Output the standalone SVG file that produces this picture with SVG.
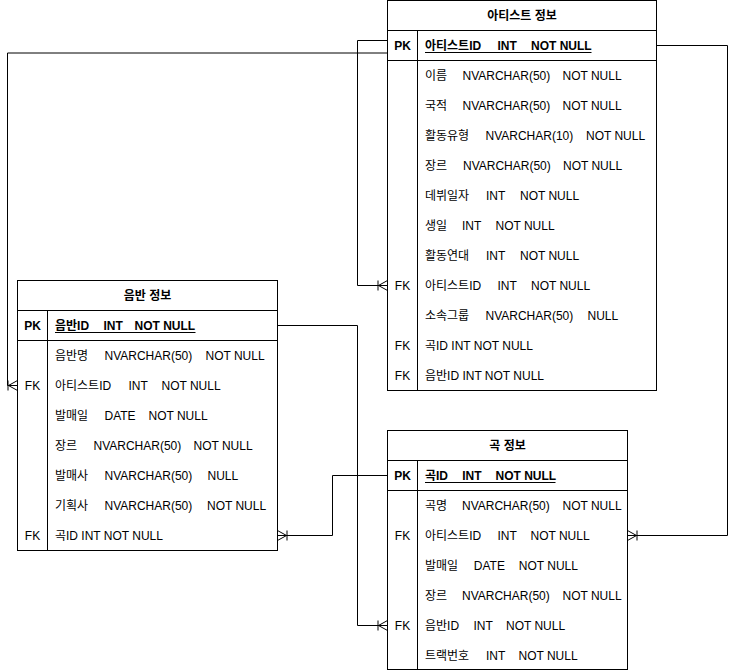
<svg xmlns="http://www.w3.org/2000/svg" width="737" height="672" viewBox="0 0 737 672">
<style>
  text { font-family: "Liberation Sans", "Noto Sans CJK KR", sans-serif; font-size: 12px; fill: #000; white-space: pre; }
  .title { font-weight: bold; text-anchor: middle; }
  .key { text-anchor: middle; }
  .pk { font-weight: bold; }
  .box { fill: #fff; stroke: #000; stroke-width: 1; }
  .ln { fill: none; stroke: #000; stroke-width: 1; }
  .ul { fill: none; stroke: #000; stroke-width: 1; }
  .edge { fill: none; stroke: #000; stroke-width: 1; marker-end: url(#erOneToMany); }
</style>
<defs>
  <marker id="erOneToMany" markerUnits="userSpaceOnUse" viewBox="-12 -7 14 14" markerWidth="14" markerHeight="14" refX="0" refY="0" orient="auto" overflow="visible">
    <path d="M-9,0 L0,-5 M-9,0 L0,5 M-9,0 L0,0 M-9.5,-5 L-9.5,5" fill="none" stroke="#000" stroke-width="1"/>
  </marker>
</defs>

<g id="connectors">
  <path class="edge" d="M387.5,53 H7.5 V385.5 H17.5"/>
  <path class="edge" d="M387.5,40.5 H357.5 V285.5 H387.5"/>
  <path class="edge" d="M656.5,45.5 H727.5 V535.5 H627.5"/>
  <path class="edge" d="M277.5,325.5 H357.5 V625.5 H387.5"/>
  <path class="edge" d="M387.5,475.5 H332.5 V535.5 H277.5"/>
</g>

<g id="artist">
  <rect class="box" x="387.5" y="0.5" width="269" height="390"/>
  <path class="ln" d="M387.5,30.5 H656.5 M387.5,60.5 H656.5 M417.5,30.5 V390.5"/>
  <text class="title" x="522" y="20">아티스트 정보</text>
  <text class="key pk" x="402.5" y="50">PK</text>
  <text class="pk" y="50"><tspan x="425">아티스트ID</tspan><tspan x="497.5">INT</tspan><tspan x="531">NOT NULL</tspan></text>
  <path class="ul" d="M425,52.5 H591.5"/>
  <text y="80"><tspan x="425">이름</tspan><tspan x="462.5">NVARCHAR(50)</tspan><tspan x="562.5">NOT NULL</tspan></text>
  <text y="110"><tspan x="425">국적</tspan><tspan x="462.5">NVARCHAR(50)</tspan><tspan x="562.5">NOT NULL</tspan></text>
  <text y="140"><tspan x="425">활동유형</tspan><tspan x="485.5">NVARCHAR(10)</tspan><tspan x="586">NOT NULL</tspan></text>
  <text y="170"><tspan x="425">장르</tspan><tspan x="463">NVARCHAR(50)</tspan><tspan x="563">NOT NULL</tspan></text>
  <text y="200"><tspan x="425">데뷔일자</tspan><tspan x="486">INT</tspan><tspan x="520">NOT NULL</tspan></text>
  <text y="230"><tspan x="425">생일</tspan><tspan x="462">INT</tspan><tspan x="495.5">NOT NULL</tspan></text>
  <text y="260"><tspan x="425">활동연대</tspan><tspan x="486">INT</tspan><tspan x="520">NOT NULL</tspan></text>
  <text class="key" x="402.5" y="290">FK</text>
  <text y="290"><tspan x="425">아티스트ID</tspan><tspan x="497.5">INT</tspan><tspan x="531">NOT NULL</tspan></text>
  <text y="320"><tspan x="425">소속그룹</tspan><tspan x="485.5">NVARCHAR(50)</tspan><tspan x="587.5">NULL</tspan></text>
  <text class="key" x="402.5" y="350">FK</text>
  <text x="425" y="350">곡ID INT NOT NULL</text>
  <text class="key" x="402.5" y="380">FK</text>
  <text x="425" y="380">음반ID INT NOT NULL</text>
</g>

<g id="album">
  <rect class="box" x="17.5" y="280.5" width="260" height="270"/>
  <path class="ln" d="M17.5,310.5 H277.5 M17.5,340.5 H277.5 M47.5,310.5 V550.5"/>
  <text class="title" x="147.5" y="300">음반 정보</text>
  <text class="key pk" x="32.5" y="330">PK</text>
  <text class="pk" y="330"><tspan x="55">음반ID</tspan><tspan x="103.5">INT</tspan><tspan x="134.5">NOT NULL</tspan></text>
  <path class="ul" d="M55,332.5 H195.5"/>
  <text y="360"><tspan x="55">음반명</tspan><tspan x="104.5">NVARCHAR(50)</tspan><tspan x="205.5">NOT NULL</tspan></text>
  <text class="key" x="32.5" y="390">FK</text>
  <text y="390"><tspan x="55">아티스트ID</tspan><tspan x="128.5">INT</tspan><tspan x="161.5">NOT NULL</tspan></text>
  <text y="420"><tspan x="55">발매일</tspan><tspan x="104.5">DATE</tspan><tspan x="148.5">NOT NULL</tspan></text>
  <text y="450"><tspan x="55">장르</tspan><tspan x="93.5">NVARCHAR(50)</tspan><tspan x="193.5">NOT NULL</tspan></text>
  <text y="480"><tspan x="55">발매사</tspan><tspan x="104.5">NVARCHAR(50)</tspan><tspan x="207.5">NULL</tspan></text>
  <text y="510"><tspan x="55">기획사</tspan><tspan x="104.5">NVARCHAR(50)</tspan><tspan x="207">NOT NULL</tspan></text>
  <text class="key" x="32.5" y="540">FK</text>
  <text x="55" y="540">곡ID INT NOT NULL</text>
</g>

<g id="song">
  <rect class="box" x="387.5" y="430.5" width="240" height="239"/>
  <path class="ln" d="M387.5,460.5 H627.5 M387.5,490.5 H627.5 M417.5,460.5 V669.5"/>
  <text class="title" x="507.5" y="450">곡 정보</text>
  <text class="key pk" x="402.5" y="480">PK</text>
  <text class="pk" y="480"><tspan x="425">곡ID</tspan><tspan x="462.2">INT</tspan><tspan x="495.5">NOT NULL</tspan></text>
  <path class="ul" d="M425,482.5 H555.5"/>
  <text y="510"><tspan x="425">곡명</tspan><tspan x="462">NVARCHAR(50)</tspan><tspan x="562.5">NOT NULL</tspan></text>
  <text class="key" x="402.5" y="540">FK</text>
  <text y="540"><tspan x="425">아티스트ID</tspan><tspan x="497.5">INT</tspan><tspan x="530.5">NOT NULL</tspan></text>
  <text y="570"><tspan x="425">발매일</tspan><tspan x="473.8">DATE</tspan><tspan x="518.8">NOT NULL</tspan></text>
  <text y="600"><tspan x="425">장르</tspan><tspan x="462">NVARCHAR(50)</tspan><tspan x="562.5">NOT NULL</tspan></text>
  <text class="key" x="402.5" y="630">FK</text>
  <text y="630"><tspan x="425">음반ID</tspan><tspan x="473.5">INT</tspan><tspan x="506">NOT NULL</tspan></text>
  <text y="660"><tspan x="425">트랙번호</tspan><tspan x="486">INT</tspan><tspan x="518.5">NOT NULL</tspan></text>
</g>
</svg>
